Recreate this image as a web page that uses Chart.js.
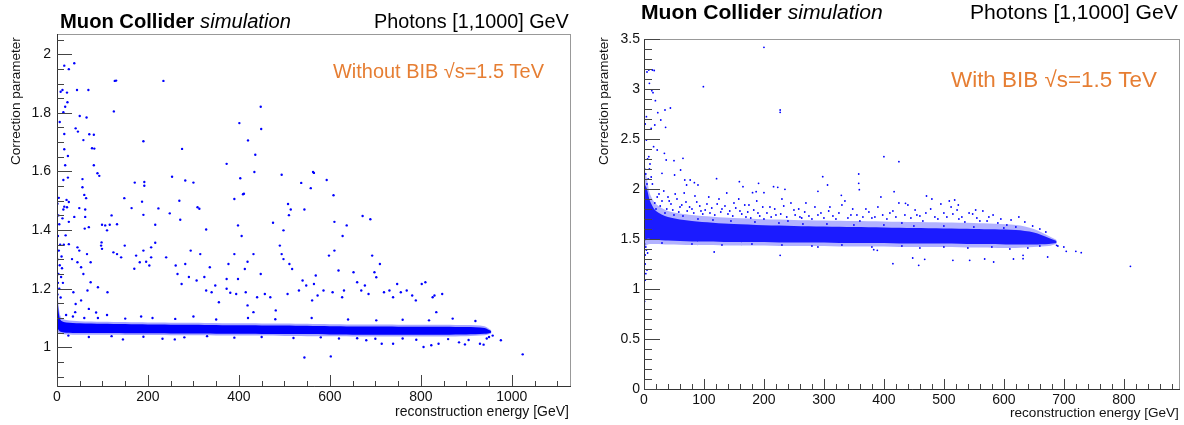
<!DOCTYPE html>
<html>
<head>
<meta charset="utf-8">
<script src="https://cdn.jsdelivr.net/npm/chart.js@4.4.1/dist/chart.umd.min.js"></script>
<style>
  html, body { margin: 0; padding: 0; background: #fff; }
  #wrap { position: relative; width: 1184px; height: 425px; }
  canvas { position: absolute; top: 0; }
  #left { left: 0; }
  #right { left: 592px; }
</style>
</head>
<body>
<div id="wrap">
  <canvas id="left" width="592" height="425"></canvas>
  <canvas id="right" width="592" height="425"></canvas>
</div>
<script>
// ---- data ----

// tick labels
const leftXTicks = [0, 200, 400, 600, 800, 1000];
const leftYTicks = [1, 1.2, 1.4, 1.6, 1.8, 2];
const rightXTicks = [0, 100, 200, 300, 400, 500, 600, 700, 800];
const rightYTicks = [0, 0.5, 1, 1.5, 2, 2.5, 3, 3.5];

// left: dense band (without BIB), energy vs edges of the band
const leftBandX = [0.5, 3, 6, 10, 20, 50, 100, 200, 300, 400, 500, 600, 700, 800, 900, 940, 955];
const leftCoreUpper = [1.18, 1.13, 1.10, 1.09, 1.085, 1.082, 1.080, 1.078, 1.077, 1.075, 1.074, 1.072, 1.071, 1.070, 1.069, 1.066, 1.055];
const leftCoreLower = [1.07, 1.06, 1.055, 1.052, 1.050, 1.049, 1.049, 1.048, 1.047, 1.046, 1.045, 1.044, 1.043, 1.043, 1.044, 1.046, 1.050];
const leftHaloUpper = [1.20, 1.15, 1.115, 1.10, 1.093, 1.089, 1.087, 1.085, 1.084, 1.082, 1.081, 1.079, 1.078, 1.077, 1.076, 1.072, 1.058];
const leftHaloLower = [1.06, 1.05, 1.047, 1.045, 1.044, 1.043, 1.043, 1.042, 1.041, 1.040, 1.039, 1.038, 1.037, 1.037, 1.038, 1.041, 1.047];

// left: single photons away from the band
const leftDots = [
  [16,1.961],[38,1.969],[26,1.949],[8,1.872],[12,1.878],[22,1.869],[44,1.878],[69,1.878],[23,1.836],[18,1.821],
  [14,1.802],[6,1.769],[50,1.789],[65,1.784],[41,1.747],[46,1.736],[16,1.728],[71,1.727],[81,1.725],[58,1.707],
  [16,1.676],[77,1.679],[82,1.678],[24,1.653],[18,1.621],[81,1.621],[89,1.594],[93,1.585],[24,1.579],[14,1.571],
  [56,1.574],[56,1.546],[60,1.52],[64,1.509],[0,1.51],[4,1.51],[21,1.503],[26,1.496],[16,1.48],[22,1.478],
  [49,1.475],[62,1.47],[125,1.805],[127,1.909],[130,1.91],[234,1.909],[190,1.703],[275,1.677],[253,1.582],[282,1.569],
  [300,1.562],[171,1.562],[192,1.564],[192,1.551],[148,1.509],[187,1.497],[269,1.50],[164,1.475],[223,1.474],[309,1.478],
  [313,1.473],[373,1.626],[403,1.577],[401,1.765],[448,1.821],[449,1.745],[420,1.706],[436,1.657],[434,1.598],[390,1.506],
  [409,1.522],[411,1.524],[494,1.589],[508,1.489],[537,1.561],[558,1.543],[563,1.598],[565,1.595],[593,1.571],[608,1.519],
  [544,1.47],[514,1.47],
  [38,1.445],[62,1.445],[61,1.405],[70,1.41],[26,1.428],[19,1.382],[26,1.352],[120,1.45],[99,1.418],[106,1.416],
  [116,1.418],[110,1.399],[132,1.42],[190,1.452],[216,1.418],[248,1.457],[271,1.435],[328,1.402],[398,1.416],[406,1.38],
  [475,1.425],[498,1.399],[510,1.451],[610,1.428],[637,1.416],[672,1.448],[689,1.437],[628,1.38],
  [97,1.347],[99,1.336],[124,1.324],[132,1.318],[98,1.358],[149,1.347],[141,1.307],[45,1.341],[49,1.33],[33,1.301],
  [45,1.29],[66,1.318],[74,1.29],[53,1.273],[58,1.25],[74,1.222],[67,1.194],[90,1.205],[111,1.188],[36,1.188],
  [41,1.148],[53,1.16],[70,1.131],[86,1.119],
  [174,1.313],[190,1.33],[207,1.307],[182,1.29],[170,1.268],[216,1.357],[207,1.341],[196,1.292],[203,1.279],[240,1.307],
  [261,1.279],[282,1.284],[290,1.24],[265,1.25],[274,1.216],[294,1.33],[315,1.318],[336,1.273],[324,1.24],[307,1.228],
  [328,1.194],[340,1.188],[356,1.154],[348,1.211],[373,1.2],[381,1.186],[394,1.182],[415,1.188],[419,1.143],[432,1.12],
  [440,1.171],[373,1.233],[398,1.233],[413,1.267],[390,1.318],[377,1.284],[419,1.292],[432,1.318],[448,1.25],[457,1.182],
  [469,1.171],[481,1.126],[490,1.347],[494,1.318],[498,1.301],[507,1.182],[511,1.284],[517,1.267],[532,1.194],[540,1.228],
  [548,1.211],[565,1.216],[569,1.245],[561,1.16],[573,1.177],[586,1.194],[598,1.313],[610,1.33],[619,1.262],[606,1.188],
  [631,1.194],[627,1.171],[652,1.256],[660,1.222],[669,1.194],[677,1.211],[685,1.182],[698,1.256],[702,1.239],[693,1.313],
  [710,1.284],[702,1.092],[719,1.188],[731,1.194],[739,1.171],[748,1.216],[756,1.188],[769,1.194],[781,1.177],[789,1.16],
  [802,1.216],[810,1.222],[818,1.092],[826,1.171],[830,1.177],[834,1.12],[847,1.182],[806,1.001],[823,1.007],
  [544,0.965],[602,0.969],[976,1.024],[1024,0.976],
  [145,1.027],[232,1.029],[259,1.027],[680,1.024],[714,1.012],[739,1.012],[839,1.012],[884,1.017],[897,1.01],[930,1.012],[938,1.009],
  [1,1.49],[3,1.45],[5,1.42],[2,1.38],[7,1.35],[4,1.33],[1,1.3],[6,1.28],[3,1.25],[9,1.24],
  [2,1.22],[5,1.2],[1,1.18],[8,1.17],[12,1.44],[14,1.47],[15,1.35],[10,1.31],[11,1.27],[13,1.22],
  [20,1.11],[35,1.105],[60,1.1],[90,1.1],[150,1.098],[210,1.1],[260,1.097],[300,1.105],[350,1.095],[420,1.1],
  [480,1.096],[560,1.1],[640,1.095],[760,1.094],[870,1.098],[920,1.09],[40,1.12],[110,1.11],[185,1.105],
  [25,1.04],[70,1.035],[120,1.038],[190,1.036],[280,1.034],[330,1.038],[390,1.033],[450,1.035],[520,1.032],[580,1.034],
  [620,1.03],[660,1.031],[700,1.029],[760,1.03],[790,1.026],[860,1.028],[905,1.025],[945,1.03],[950,1.035],[958,1.04]
];

// right: dense band (with BIB)
const rightBandX = [1, 5, 10, 20, 40, 80, 150, 250, 350, 450, 550, 620, 650, 675, 688];
const rightCoreUpper = [2.05, 2.00, 1.88, 1.78, 1.72, 1.68, 1.65, 1.63, 1.62, 1.61, 1.60, 1.59, 1.565, 1.51, 1.48];
const rightCoreLower = [1.48, 1.50, 1.50, 1.49, 1.485, 1.475, 1.47, 1.465, 1.46, 1.455, 1.45, 1.445, 1.445, 1.45, 1.46];
const rightHaloUpper = [2.20, 2.10, 1.95, 1.85, 1.78, 1.74, 1.71, 1.69, 1.68, 1.67, 1.66, 1.64, 1.60, 1.53, 1.49];
const rightHaloLower = [1.42, 1.44, 1.45, 1.45, 1.445, 1.44, 1.435, 1.43, 1.425, 1.42, 1.415, 1.41, 1.42, 1.43, 1.45];

// right: single photons away from the band
const rightDots = [
  [200,3.417],[99,3.023],[227,2.79],[227,2.767],[8,3.19],[14,3.19],[17,3.185],[5,3.17],[9,3.057],[13,2.983],
  [15,2.963],[19,2.883],[23,2.763],[35,2.79],[44,2.81],[4,2.723],[2,2.65],[12,2.607],[18,2.64],[28,2.69],
  [36,2.617],[16,2.423],[22,2.39],[4,2.49],[8,2.323],[10,2.25],[34,2.357],[37,2.29],[50,2.283],[65,2.307],
  [61,2.19],[51,2.14],[30,2.157],[400,2.323],[425,2.273],[298,2.123],[306,2.04],[358,2.15],[358,2.057],[359,1.993],
  [216,2.023],[223,2.017],[235,1.997],[191,2.057],[159,2.073],[165,2.023],[181,1.963],[187,1.973],[200,1.963],[121,2.103],
  [68,2.09],[77,2.09],[84,2.063],[90,2.04],[71,2.04],[290,1.977],[329,1.937],[417,1.973],[436,1.857],[471,1.93],
  [480,1.9],[509,1.88],[518,1.89],[553,1.79],[524,1.84],
  [117,1.37],[227,1.337],[290,1.42],[383,1.393],[389,1.387],[415,1.253],[448,1.31],[458,1.237],[468,1.297],[515,1.287],
  [543,1.287],[568,1.30],[583,1.27],[616,1.30],[632,1.303],[632,1.337],[673,1.32],[688,1.437],[704,1.377],[720,1.377],
  [729,1.363],[811,1.227],
  [1,1.087],[2,1.09],[1,0.877],[3,1.153],[5,1.19],[2,1.34],[4,1.39],[1,1.45],[3,1.42],[6,1.36],
  [2,1.25],[0,1.08],[7,2.1],[3,2.15],[9,2.2],[5,2.05],[12,2.12],[1,2.2],[6,2.3],[14,2.05],
  [25,1.95],[30,1.88],[40,1.92],[45,1.85],[55,1.9],[60,1.82],[70,1.87],[80,1.8],[85,1.93],[95,1.78],
  [105,1.85],[110,1.76],[125,1.9],[130,1.8],[140,1.75],[150,1.86],[160,1.78],[170,1.72],[175,1.84],[190,1.76],
  [200,1.7],[210,1.82],[220,1.74],[230,1.9],[240,1.68],[250,1.79],[260,1.72],[270,1.86],[280,1.7],[295,1.76],
  [310,1.82],[320,1.7],[335,1.88],[345,1.74],[360,1.68],[370,1.8],[385,1.72],[395,1.92],[405,1.7],[415,1.78],
  [430,1.66],[440,1.84],[455,1.74],[465,1.68],[478,1.8],[490,1.7],[500,1.76],[512,1.82],[525,1.7],[535,1.67],
  [548,1.75],[560,1.68],[575,1.72],[590,1.66],[605,1.64],[620,1.62],[20,1.8],[35,1.76],[50,1.74],[65,1.73],
  [90,1.7],[115,1.69],[145,1.68],[185,1.67],[225,1.66],[265,1.65],[305,1.65],[350,1.64],[400,1.64],[450,1.63],
  [500,1.63],[550,1.62],[600,1.61],
  [18,1.86],[22,1.92],[27,1.83],[33,1.98],[38,1.8],[42,1.88],[48,1.79],[52,1.95],[58,1.77],[63,1.84],
  [67,1.96],[72,1.78],[76,1.82],[83,1.76],[88,1.87],[93,1.83],[98,1.75],[102,1.79],[108,1.92],[113,1.81],
  [118,1.74],[122,1.85],[128,1.77],[135,1.83],[138,1.96],[143,1.78],[148,1.73],[153,1.81],[158,1.9],[163,1.75],
  [168,1.84],[173,1.77],[178,1.71],[183,1.79],[188,1.88],[193,1.73],[198,1.82],[205,1.76],[212,1.72],[218,1.8],
  [228,1.75],[233,1.83],[238,1.72],[245,1.86],[252,1.74],[258,1.8],[263,1.71],[268,1.77],[275,1.73],[285,1.82],
  [290,1.74],[300,1.71],[308,1.78],[315,1.73],[325,1.76],[330,1.84],[340,1.71],[348,1.8],[355,1.74],[365,1.72],
  [375,1.77],[380,1.71],[390,1.82],[398,1.74],[410,1.76],[420,1.72],[425,1.86],[435,1.74],[445,1.71],[452,1.79],
  [460,1.73],[470,1.76],[485,1.72],[495,1.85],[505,1.72],[515,1.75],[522,1.79],[530,1.72],[542,1.76],[555,1.71],
  [565,1.78],[572,1.68],[582,1.74],[595,1.7],[612,1.69],[625,1.72],[635,1.67],[648,1.63],[660,1.6],[670,1.57],
  [30,1.46],[80,1.45],[130,1.44],[180,1.45],[230,1.44],[280,1.43],[330,1.44],[380,1.42],[430,1.43],[460,1.41],
  [500,1.42],[540,1.41],[580,1.42],[610,1.4],[640,1.41],[660,1.43],[690,1.43],[700,1.42]
];

const FONT = '"Liberation Sans", Arial, Helvetica, sans-serif';
const BLUE = '#0000ff';
const ORANGE = '#e67e33';

// Function to turn x/y arrays into chart points
function toPoints(xs, ys) {
    return xs.map((x, i) => ({ x: x, y: ys[i] }));
}

// Function to find the font size that gives a text a wanted width
function fitFont(ctx, parts, width) {
    let total = 0;
    parts.forEach(p => {
        ctx.font = `${p.style} 20px ${FONT}`;
        total += ctx.measureText(p.text).width;
    });
    return 20 * width / total;
}

function drawParts(ctx, parts, x, y, width, align) {
    const size = fitFont(ctx, parts, width);
    let cx = align === 'right' ? x - width : x;
    ctx.textAlign = 'left';
    ctx.textBaseline = 'alphabetic';
    parts.forEach(p => {
        ctx.font = `${p.style} ${size}px ${FONT}`;
        ctx.fillStyle = p.color || '#000';
        ctx.fillText(p.text, cx, y);
        cx += ctx.measureText(p.text).width;
    });
}

// Plugin: ROOT-like frame, inner ticks and the texts
const rootFrame = {
    id: 'rootFrame',
    afterDraw(chart, args, o) {
        const { ctx, chartArea: a } = chart;
        const xs = chart.scales.x;
        const ys = chart.scales.y;
        ctx.save();

        // frame
        ctx.lineWidth = 1;
        ctx.strokeStyle = '#999';
        ctx.strokeRect(Math.round(a.left) + 0.5, Math.round(a.top) + 0.5, Math.round(a.right - a.left), Math.round(a.bottom - a.top));
        ctx.strokeStyle = '#333';
        ctx.beginPath();
        ctx.moveTo(Math.round(a.left) + 0.5, Math.round(a.top));
        ctx.lineTo(Math.round(a.left) + 0.5, Math.round(a.bottom) + 0.5);
        ctx.lineTo(Math.round(a.right) + 1, Math.round(a.bottom) + 0.5);
        ctx.stroke();

        // ticks
        ctx.strokeStyle = '#444';
        ctx.beginPath();
        const isMajor = (v, step) => Math.abs(v / step - Math.round(v / step)) < 1e-6;
        for (let n = Math.ceil(ys.min / o.yMinor - 1e-9); n * o.yMinor <= ys.max + 1e-9; n++) {
            const v = n * o.yMinor;
            const py = Math.round(ys.getPixelForValue(v)) + 0.5;
            const len = isMajor(v, o.yMajor) ? o.yMajorLen : o.yMinorLen;
            ctx.moveTo(a.left, py);
            ctx.lineTo(a.left + len, py);
        }
        for (let n = Math.ceil(xs.min / o.xMinor - 1e-9); n * o.xMinor <= xs.max + 1e-9; n++) {
            const v = n * o.xMinor;
            const px = Math.round(xs.getPixelForValue(v)) + 0.5;
            const len = isMajor(v, o.xMajor) ? o.xMajorLen : o.xMinorLen;
            ctx.moveTo(px, a.bottom);
            ctx.lineTo(px, a.bottom - len);
        }
        ctx.stroke();

        // header
        drawParts(ctx, [{ text: 'Muon Collider ', style: 'bold' }, { text: 'simulation', style: 'italic' }],
            o.headX, o.headY, o.headW, 'left');
        drawParts(ctx, [{ text: 'Photons [1,1000] GeV', style: 'normal' }], o.photX, o.headY, o.photW, 'right');
        drawParts(ctx, [{ text: o.label, style: 'normal', color: ORANGE }], o.labelX, o.labelY, o.labelW, 'left');

        // axis titles
        drawParts(ctx, [{ text: 'reconstruction energy [GeV]', style: 'normal', color: '#111' }],
            o.xTitleX, o.xTitleY, o.xTitleW, 'right');
        ctx.translate(o.yTitleX, o.yTitleY);
        ctx.rotate(-Math.PI / 2);
        drawParts(ctx, [{ text: 'Correction parameter', style: 'normal', color: '#111' }], 0, 0, o.yTitleW, 'right');

        ctx.restore();
    }
};

// Function to build one panel
function makePanel(id, p) {
    const ctx = document.getElementById(id).getContext('2d');
    const bandSet = (ys, color, fill) => ({
        type: 'line',
        data: toPoints(p.bandX, ys),
        pointRadius: 0,
        borderColor: 'transparent',
        borderWidth: 1,
        backgroundColor: color,
        fill: fill,
        tension: 0.3
    });

    new Chart(ctx, {
        type: 'scatter',
        data: {
            datasets: [
                {
                    data: p.dots.map(d => ({ x: d[0], y: d[1] })),
                    pointRadius: p.dotSize,
                    pointBorderWidth: 0,
                    backgroundColor: BLUE
                },
                bandSet(p.coreLower, BLUE, false),
                bandSet(p.coreUpper, p.coreColor, '-1'),
                bandSet(p.haloLower, BLUE, false),
                bandSet(p.haloUpper, p.haloColor, '-1')
            ]
        },
        options: {
            responsive: false,
            animation: false,
            devicePixelRatio: 1,
            layout: { padding: p.padding },
            plugins: {
                legend: { display: false },
                tooltip: { enabled: false },
                rootFrame: p.frame
            },
            scales: {
                x: {
                    type: 'linear',
                    min: p.xMin,
                    max: p.xMax,
                    grid: { display: false, drawTicks: false },
                    border: { display: false },
                    afterBuildTicks: (s) => { s.ticks = p.xTicks.map(v => ({ value: v })); },
                    afterFit: (s) => { s.height = p.xAxisH; },
                    ticks: {
                        autoSkip: false,
                        maxRotation: 0,
                        padding: 3,
                        color: '#111',
                        font: { family: FONT, size: 14 },
                        callback: (v) => String(v)
                    }
                },
                y: {
                    type: 'linear',
                    min: p.yMin,
                    max: p.yMax,
                    grid: { display: false, drawTicks: false },
                    border: { display: false },
                    afterBuildTicks: (s) => { s.ticks = p.yTicks.map(v => ({ value: v })); },
                    afterFit: (s) => { s.width = p.yAxisW; },
                    ticks: {
                        autoSkip: false,
                        padding: p.yPad,
                        color: '#111',
                        font: { family: FONT, size: 14 },
                        callback: (v) => String(v)
                    }
                }
            }
        },
        plugins: [rootFrame]
    });
}

makePanel('left', {
    dots: leftDots, dotSize: 1.2,
    bandX: leftBandX,
    coreUpper: leftCoreUpper, coreLower: leftCoreLower,
    haloUpper: leftHaloUpper, haloLower: leftHaloLower,
    coreColor: BLUE, haloColor: 'rgba(0,0,255,0.35)',
    xMin: 0, xMax: 1128, yMin: 0.868, yMax: 2.069,
    xTicks: leftXTicks, yTicks: leftYTicks,
    padding: { left: 0, top: 34, right: 22, bottom: 0 },
    yAxisW: 57, xAxisH: 39, yPad: 6,
    frame: {
        xMajor: 200, xMinor: 50, yMajor: 0.2, yMinor: 0.05,
        xMajorLen: 11, xMinorLen: 5, yMajorLen: 15, yMinorLen: 7,
        headX: 60, headY: 28, headW: 231, photX: 569, photW: 195,
        label: 'Without BIB √s=1.5 TeV', labelX: 333, labelY: 78, labelW: 211,
        xTitleX: 569, xTitleY: 416, xTitleW: 174,
        yTitleX: 20, yTitleY: 37, yTitleW: 128
    }
});

makePanel('right', {
    dots: rightDots, dotSize: 0.9,
    bandX: rightBandX,
    coreUpper: rightCoreUpper, coreLower: rightCoreLower,
    haloUpper: rightHaloUpper, haloLower: rightHaloLower,
    coreColor: 'rgba(0,0,255,0.85)', haloColor: 'rgba(0,0,255,0.3)',
    xMin: 0, xMax: 892, yMin: 0, yMax: 3.5,
    xTicks: rightXTicks, yTicks: rightYTicks,
    padding: { left: 0, top: 39, right: 5, bottom: 0 },
    yAxisW: 52, xAxisH: 36, yPad: 4,
    frame: {
        xMajor: 100, xMinor: 20, yMajor: 0.5, yMinor: 0.1,
        xMajorLen: 10, xMinorLen: 5, yMajorLen: 16, yMinorLen: 8,
        headX: 49, headY: 19, headW: 242, photX: 586, photW: 208,
        label: 'With BIB √s=1.5 TeV', labelX: 359, labelY: 87, labelW: 206,
        xTitleX: 587, xTitleY: 417, xTitleW: 169,
        yTitleX: 16, yTitleY: 37, yTitleW: 128
    }
});
</script>
</body>
</html>
